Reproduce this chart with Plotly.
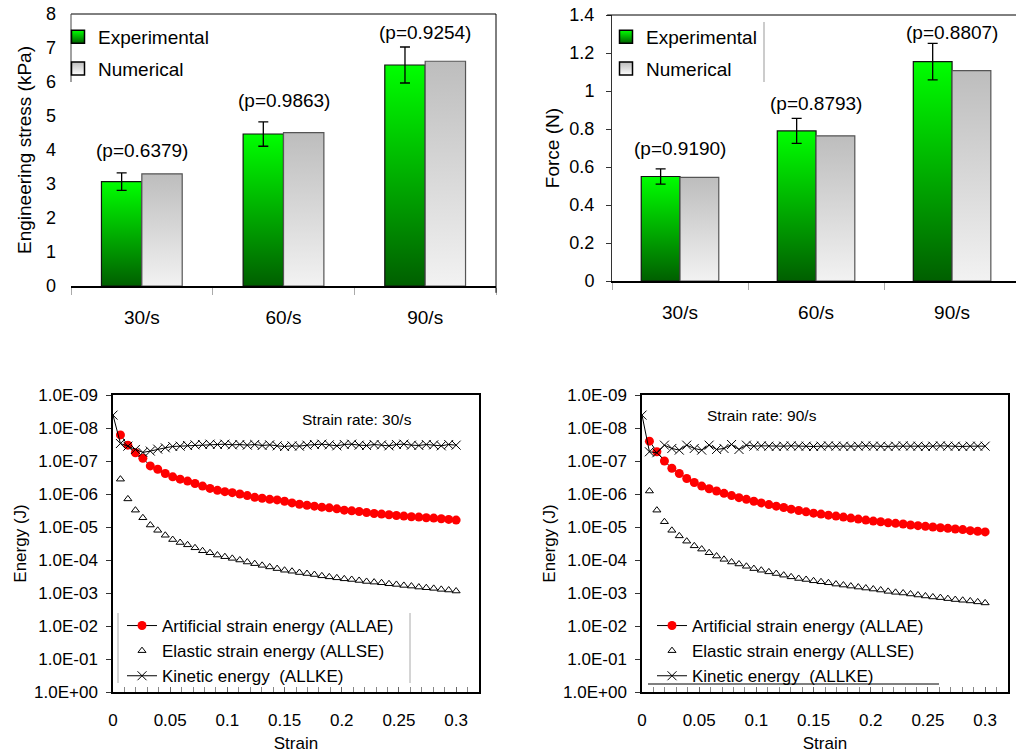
import plotly.graph_objects as go

# ---------------- data ----------------
rates = ["30/s", "60/s", "90/s"]

stress_exp = [3.07, 4.47, 6.50]
stress_exp_err = [0.26, 0.36, 0.53]
stress_num = [3.30, 4.51, 6.61]
stress_p = ["(p=0.6379)", "(p=0.9863)", "(p=0.9254)"]

force_exp = [0.550, 0.790, 1.155]
force_exp_err = [0.040, 0.066, 0.096]
force_num = [0.545, 0.764, 1.107]
force_p = ["(p=0.9190)", "(p=0.8793)", "(p=0.8807)"]

strain = [0.0, 0.0065, 0.0130, 0.0196, 0.0261, 0.0326, 0.0391, 0.0457, 0.0522, 0.0587,
          0.0652, 0.0717, 0.0783, 0.0848, 0.0913, 0.0978, 0.1043, 0.1109, 0.1174, 0.1239,
          0.1304, 0.1370, 0.1435, 0.1500, 0.1565, 0.1630, 0.1696, 0.1761, 0.1826, 0.1891,
          0.1957, 0.2022, 0.2087, 0.2152, 0.2217, 0.2283, 0.2348, 0.2413, 0.2478, 0.2543,
          0.2609, 0.2674, 0.2739, 0.2804, 0.2870, 0.2935, 0.3000]

allae_30 = [1.62e-8, 3.31e-8, 5.62e-8, 8.32e-8, 1.41e-7, 1.78e-7, 2.40e-7, 3.02e-7, 3.55e-7, 4.07e-7,
            4.79e-7, 5.75e-7, 6.76e-7, 7.76e-7, 8.51e-7, 9.12e-7, 1.00e-6, 1.12e-6, 1.26e-6, 1.35e-6,
            1.45e-6, 1.51e-6, 1.66e-6, 1.86e-6, 2.04e-6, 2.19e-6, 2.34e-6, 2.51e-6, 2.63e-6, 2.82e-6,
            3.09e-6, 3.24e-6, 3.39e-6, 3.63e-6, 3.89e-6, 4.07e-6, 4.27e-6, 4.47e-6, 4.68e-6, 4.90e-6,
            5.01e-6, 5.25e-6, 5.37e-6, 5.62e-6, 5.89e-6, 6.17e-6]
allse_30 = [3.55e-7, 1.41e-6, 3.09e-6, 5.25e-6, 8.71e-6, 1.26e-5, 1.78e-5, 2.40e-5, 2.95e-5, 3.47e-5,
            4.27e-5, 5.25e-5, 6.03e-5, 7.08e-5, 7.94e-5, 8.91e-5, 1.00e-4, 1.15e-4, 1.29e-4, 1.45e-4,
            1.62e-4, 1.82e-4, 2.04e-4, 2.19e-4, 2.40e-4, 2.57e-4, 2.75e-4, 3.02e-4, 3.24e-4, 3.47e-4,
            3.72e-4, 3.89e-4, 4.17e-4, 4.47e-4, 4.68e-4, 4.90e-4, 5.25e-4, 5.50e-4, 5.89e-4, 6.17e-4,
            6.61e-4, 6.92e-4, 7.24e-4, 7.76e-4, 8.13e-4, 8.71e-4]
allke_30 = [4.07e-9, 2.95e-8, 3.55e-8, 4.47e-8, 5.50e-8, 5.01e-8, 4.37e-8, 3.98e-8, 3.63e-8, 3.55e-8,
            3.39e-8, 3.24e-8, 3.16e-8, 3.09e-8, 3.16e-8, 3.09e-8, 3.24e-8, 3.16e-8, 3.31e-8, 3.16e-8,
            3.39e-8, 3.24e-8, 3.47e-8, 3.63e-8, 3.47e-8, 3.55e-8, 3.31e-8, 3.16e-8, 3.09e-8, 3.24e-8,
            3.47e-8, 3.16e-8, 3.09e-8, 3.31e-8, 3.39e-8, 3.16e-8, 3.24e-8, 3.47e-8, 3.16e-8, 3.09e-8,
            3.31e-8, 3.39e-8, 3.16e-8, 3.24e-8, 3.47e-8, 3.16e-8, 3.31e-8]

allae_90 = [2.51e-8, 5.25e-8, 1.00e-7, 1.66e-7, 2.40e-7, 3.39e-7, 4.47e-7, 5.75e-7, 6.92e-7, 8.13e-7,
            9.55e-7, 1.12e-6, 1.29e-6, 1.45e-6, 1.66e-6, 1.86e-6, 2.09e-6, 2.34e-6, 2.57e-6, 2.88e-6,
            3.16e-6, 3.47e-6, 3.80e-6, 4.07e-6, 4.37e-6, 4.68e-6, 5.01e-6, 5.37e-6, 5.75e-6, 6.17e-6,
            6.61e-6, 6.92e-6, 7.41e-6, 7.76e-6, 8.13e-6, 8.71e-6, 9.12e-6, 9.55e-6, 1.00e-5, 1.05e-5,
            1.10e-5, 1.15e-5, 1.20e-5, 1.29e-5, 1.35e-5, 1.41e-5]
allse_90 = [8.13e-7, 3.09e-6, 6.92e-6, 1.26e-5, 1.86e-5, 2.69e-5, 3.72e-5, 4.68e-5, 6.03e-5, 7.59e-5,
            9.55e-5, 1.15e-4, 1.32e-4, 1.55e-4, 1.82e-4, 2.04e-4, 2.29e-4, 2.57e-4, 2.88e-4, 3.24e-4,
            3.63e-4, 3.89e-4, 4.27e-4, 4.57e-4, 4.90e-4, 5.37e-4, 5.75e-4, 6.17e-4, 6.61e-4, 7.08e-4,
            7.59e-4, 8.13e-4, 8.91e-4, 9.55e-4, 1.00e-3, 1.07e-3, 1.15e-3, 1.23e-3, 1.32e-3, 1.38e-3,
            1.48e-3, 1.58e-3, 1.66e-3, 1.74e-3, 1.86e-3, 2.00e-3]
allke_90 = [4.07e-9, 5.25e-8, 5.62e-8, 3.31e-8, 4.17e-8, 4.68e-8, 3.31e-8, 4.17e-8, 4.68e-8, 3.31e-8,
            4.47e-8, 4.17e-8, 3.16e-8, 4.47e-8, 3.31e-8, 3.55e-8, 3.47e-8, 3.55e-8, 3.63e-8, 3.55e-8,
            3.47e-8, 3.55e-8, 3.55e-8, 3.63e-8, 3.55e-8, 3.47e-8, 3.55e-8, 3.55e-8, 3.63e-8, 3.55e-8,
            3.47e-8, 3.55e-8, 3.55e-8, 3.63e-8, 3.55e-8, 3.47e-8, 3.55e-8, 3.55e-8, 3.63e-8, 3.55e-8,
            3.47e-8, 3.55e-8, 3.55e-8, 3.63e-8, 3.55e-8, 3.55e-8, 3.55e-8]

energy_tickvals = [1e-9, 1e-8, 1e-7, 1e-6, 1e-5, 1e-4, 1e-3, 1e-2, 1e-1, 1e0]
energy_ticktext = ["1.0E-09", "1.0E-08", "1.0E-07", "1.0E-06", "1.0E-05",
                   "1.0E-04", "1.0E-03", "1.0E-02", "1.0E-01", "1.0E+00"]

# ---------------- style ----------------
FONT = "Liberation Sans, Arial, sans-serif"
GREEN_TOP, GREEN_BOT = "#00ff00", "#005f00"
GRAY_TOP, GRAY_BOT = "#bdbdbd", "#f2f2f2"
BW = 0.285  # bar width in category units

W, H = 1016, 755
def px_x(p):
    return p / W
def px_y(p):
    return 1 - p / H

fig = go.Figure()

def add_bars(xa, ya, exp, err, num, legend):
    for i in range(len(rates)):
        for j, (vals, c0, c1, lc) in enumerate([(exp, GREEN_BOT, GREEN_TOP, "#111111"),
                                                 (num, GRAY_BOT, GRAY_TOP, "#555555")]):
            left = i - BW if j == 0 else i
            right = left + BW
            fig.add_trace(go.Scatter(
                x=[left, right, right, left, left], y=[0, 0, vals[i], vals[i], 0],
                xaxis=xa, yaxis=ya, mode="lines", fill="toself",
                fillgradient=dict(type="vertical", colorscale=[[0, c0], [1, c1]]),
                line=dict(color=lc, width=1.2), showlegend=False, hoverinfo="skip"))
    fig.add_trace(go.Scatter(
        x=[i - BW / 2 for i in range(len(rates))], y=exp, xaxis=xa, yaxis=ya,
        mode="markers", marker=dict(size=1, color="rgba(0,0,0,0)"),
        error_y=dict(type="data", array=err, visible=True, color="black", thickness=1.3, width=5),
        showlegend=False))
    fig.add_trace(go.Scatter(
        x=[None], y=[None], xaxis=xa, yaxis=ya, mode="markers", name="Experimental",
        legend=legend, legendgroup="e" + legend,
        marker=dict(symbol="square", size=13, color=GREEN_TOP,
                    gradient=dict(type="vertical", color=GREEN_BOT),
                    line=dict(color="black", width=1.5))))
    fig.add_trace(go.Scatter(
        x=[None], y=[None], xaxis=xa, yaxis=ya, mode="markers", name="Numerical",
        legend=legend, legendgroup="n" + legend,
        marker=dict(symbol="square", size=13, color=GRAY_TOP,
                    gradient=dict(type="vertical", color="#ffffff"),
                    line=dict(color="black", width=1.5))))

add_bars("x", "y", stress_exp, stress_exp_err, stress_num, "legend")
add_bars("x2", "y2", force_exp, force_exp_err, force_num, "legend2")

def add_energy(xa, ya, ae, se, ke, legend):
    fig.add_trace(go.Scatter(
        x=strain[1:], y=ae, xaxis=xa, yaxis=ya, mode="lines+markers",
        name="Artificial strain energy (ALLAE)", legend=legend,
        line=dict(color="black", width=1),
        marker=dict(symbol="circle", size=9, color="#ff0000")))
    fig.add_trace(go.Scatter(
        x=strain[1:], y=se, xaxis=xa, yaxis=ya, mode="markers",
        name="Elastic strain energy (ALLSE)", legend=legend,
        marker=dict(symbol="triangle-up-open", size=7, color="black", line=dict(width=1))))
    fig.add_trace(go.Scatter(
        x=strain, y=ke, xaxis=xa, yaxis=ya, mode="lines+markers",
        name="Kinetic energy  (ALLKE)", legend=legend,
        line=dict(color="black", width=1),
        marker=dict(symbol="x-thin-open", size=9, color="black", line=dict(width=1, color="black"))))

add_energy("x3", "y3", allae_30, allse_30, allke_30, "legend3")
add_energy("x4", "y4", allae_90, allse_90, allke_90, "legend4")

# ---------------- layout ----------------
tick_font = dict(family=FONT, size=18, color="black")
title_font = dict(family=FONT, size=19, color="black")

cat_axis = dict(tickvals=[0, 1, 2], ticktext=rates, ticks="", showgrid=False, zeroline=False,
                showline=True, linecolor="black", linewidth=2, automargin=False,
                tickfont=dict(family=FONT, size=19, color="black"), ticklabelstandoff=13,
                minor=dict(tick0=-0.5, dtick=1, ticks="outside", ticklen=7, tickcolor="#aaaaaa",
                           tickwidth=1))

energy_x = dict(range=[0, 0.32], tickvals=[0, 0.05, 0.1, 0.15, 0.2, 0.25, 0.3],
                ticktext=["0", "0.05", "0.1", "0.15", "0.2", "0.25", "0.3"], automargin=False,
                showgrid=False, zeroline=False, showline=True, linecolor="black", linewidth=1.5,
                mirror=True, ticks="inside", ticklen=5, tickcolor="#666666",
                minor=dict(tick0=0, dtick=0.01, ticks="inside", ticklen=5, tickcolor="#888888"),
                tickfont=dict(family=FONT, size=17, color="black"), ticklabelstandoff=12,
                title=dict(text="Strain", font=dict(family=FONT, size=17, color="black"), standoff=8))
energy_y = dict(type="log", range=[0, -9], tickvals=energy_tickvals, ticktext=energy_ticktext,
                showgrid=False, zeroline=False, showline=True, linecolor="black", linewidth=1.5,
                mirror=True, ticks="outside", ticklen=5, tickcolor="#333333", automargin=False,
                tickfont=dict(family=FONT, size=17, color="black"), ticklabelstandoff=5,
                title=dict(text="Energy (J)", font=dict(family=FONT, size=17, color="black"), standoff=3))

fig.update_layout(
    width=W, height=H, margin=dict(l=0, r=0, t=0, b=0, pad=0, autoexpand=False),
    paper_bgcolor="white", plot_bgcolor="white", showlegend=True,
    font=dict(family=FONT, color="black"),
    xaxis=dict(cat_axis, domain=[px_x(71), px_x(496)], range=[-0.5, 2.5], anchor="y"),
    yaxis=dict(domain=[px_y(286), px_y(14)], range=[0, 8], dtick=1, anchor="x",
               showgrid=False, zeroline=False, showline=False, ticks="", automargin=False,
               tickfont=tick_font, ticklabelstandoff=14,
               title=dict(text="Engineering stress (kPa)", font=title_font, standoff=9)),
    xaxis2=dict(cat_axis, domain=[px_x(612), 1.0], range=[-0.5, 2.47], anchor="y2"),
    yaxis2=dict(domain=[px_y(281), px_y(15)], range=[0, 1.4], dtick=0.2, anchor="x2",
                showgrid=False, zeroline=False, showline=True, linecolor="#333333", linewidth=1,
                ticks="outside", ticklen=5, tickcolor="#333333", automargin=False,
                tickfont=tick_font, ticklabelstandoff=8,
                title=dict(text="Force (N)", font=title_font, standoff=4)),
    xaxis3=dict(energy_x, domain=[px_x(113), px_x(479)], anchor="y3"),
    yaxis3=dict(energy_y, domain=[px_y(692), px_y(395)], anchor="x3"),
    xaxis4=dict(energy_x, domain=[px_x(642), px_x(1008)], anchor="y4"),
    yaxis4=dict(energy_y, domain=[px_y(692), px_y(395)], anchor="x4"),
    legend=dict(x=px_x(58), y=px_y(18), xanchor="left", yanchor="top", bgcolor="rgba(0,0,0,0)",
                font=dict(family=FONT, size=19, color="black"), tracegroupgap=4, itemwidth=30),
    legend2=dict(x=px_x(606), y=px_y(18), xanchor="left", yanchor="top", bgcolor="rgba(0,0,0,0)",
                 font=dict(family=FONT, size=19, color="black"), tracegroupgap=4, itemwidth=30),
    legend3=dict(x=px_x(122), y=px_y(608), xanchor="left", yanchor="top", bgcolor="rgba(0,0,0,0)",
                 font=dict(family=FONT, size=17, color="black"), itemwidth=30, tracegroupgap=0),
    legend4=dict(x=px_x(652), y=px_y(608), xanchor="left", yanchor="top", bgcolor="rgba(0,0,0,0)",
                 font=dict(family=FONT, size=17, color="black"), itemwidth=30, tracegroupgap=0),
)

# p-value annotations (label positions in data units)
stress_p_y = [3.98, 5.45, 7.46]
force_p_y = [0.697, 0.934, 1.307]
for i in range(3):
    fig.add_annotation(x=i, y=stress_p_y[i], xref="x", yref="y", text=stress_p[i], showarrow=False,
                       font=dict(family=FONT, size=19, color="black"))
    fig.add_annotation(x=i, y=force_p_y[i], xref="x2", yref="y2", text=force_p[i], showarrow=False,
                       font=dict(family=FONT, size=19, color="black"))

fig.add_annotation(x=px_x(300), y=px_y(419), xref="paper", yref="paper", text="Strain rate: 30/s",
                   showarrow=False, font=dict(family=FONT, size=15.5, color="black"))
fig.add_annotation(x=px_x(819), y=px_y(415), xref="paper", yref="paper", text="Strain rate: 90/s",
                   showarrow=False, font=dict(family=FONT, size=15.5, color="black"))

# frame / legend border lines
shapes = [
    dict(type="line", xref="x domain", yref="y domain", x0=0, x1=1, y0=1, y1=1, line=dict(color="black", width=1)),
    dict(type="line", xref="x domain", yref="y domain", x0=1, x1=1, y0=1, y1=-0.025, line=dict(color="black", width=1)),
    dict(type="line", xref="paper", yref="paper", x0=px_x(71), x1=px_x(71), y0=px_y(14), y1=px_y(82), line=dict(color="#444444", width=1)),
    dict(type="line", xref="x2 domain", yref="y2 domain", x0=-0.012, x1=1, y0=1, y1=1, line=dict(color="black", width=1)),
    dict(type="line", xref="paper", yref="paper", x0=px_x(764), x1=px_x(764), y0=px_y(22), y1=px_y(82), line=dict(color="#999999", width=1)),
    dict(type="line", xref="paper", yref="paper", x0=px_x(118), x1=px_x(118), y0=px_y(613), y1=px_y(683), line=dict(color="#aaaaaa", width=1)),
    dict(type="line", xref="paper", yref="paper", x0=px_x(410), x1=px_x(410), y0=px_y(613), y1=px_y(683), line=dict(color="#aaaaaa", width=1)),
    dict(type="line", xref="paper", yref="paper", x0=px_x(648), x1=px_x(939), y0=px_y(684), y1=px_y(684), line=dict(color="black", width=1)),
]
fig.update_layout(shapes=shapes)

fig.write_html("out.html", config={"displayModeBar": False},
               post_script="document.body.style.margin='0';document.body.style.padding='0';"
                           "document.body.style.overflow='hidden';")
